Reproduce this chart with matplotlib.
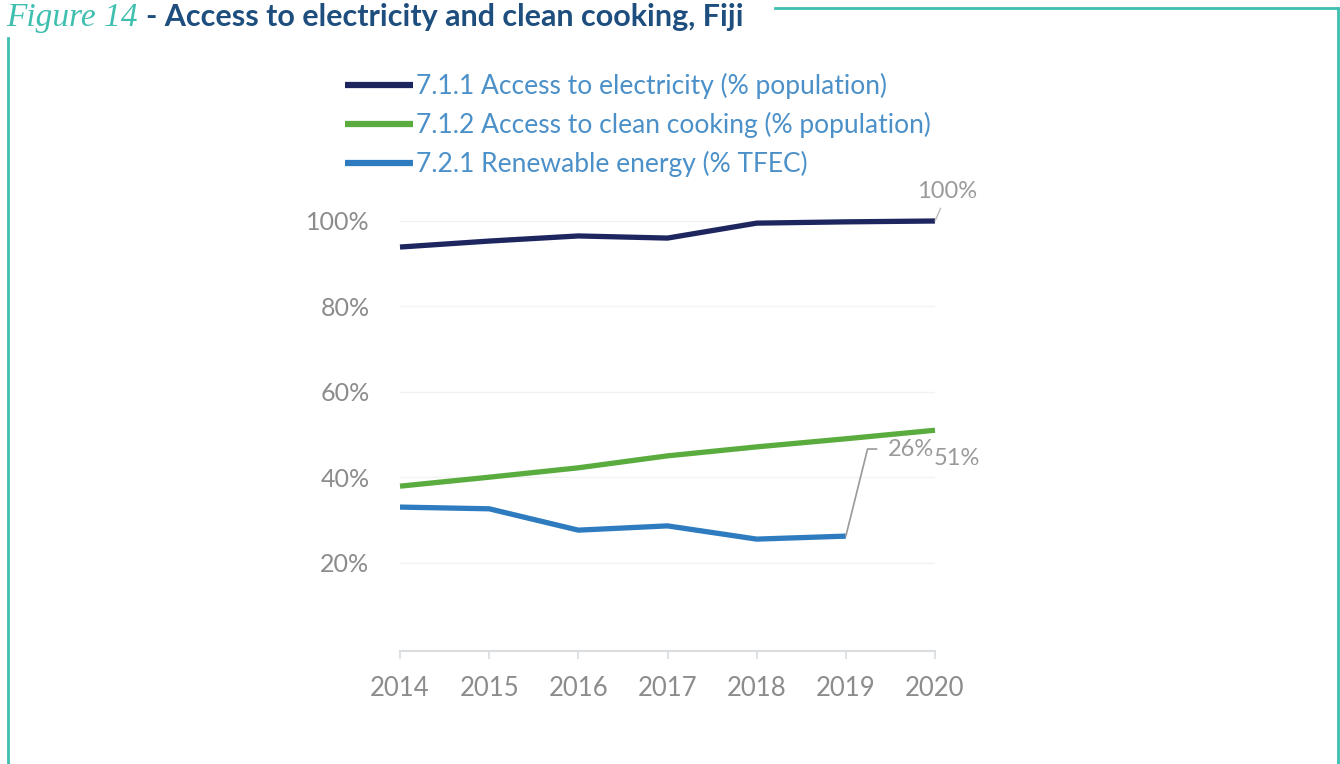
import matplotlib.pyplot as plt
from matplotlib.lines import Line2D

years = [2014, 2015, 2016, 2017, 2018, 2019, 2020]
electricity = [93.9, 95.3, 96.5, 96.0, 99.5, 99.8, 100.0]
clean_cooking = [37.9, 40.0, 42.2, 45.0, 47.1, 49.0, 51.0]
renewable_years = [2014, 2015, 2016, 2017, 2018, 2019]
renewable = [33.0, 32.6, 27.6, 28.6, 25.5, 26.2]

series_labels = ['7.1.1 Access to electricity (% population)',
                 '7.1.2 Access to clean cooking (% population)',
                 '7.2.1 Renewable energy (% TFEC)']
y_ticks = [20, 40, 60, 80, 100]

W, H = 1340, 764
fig = plt.figure(figsize=(W / 100, H / 100), dpi=100)
fig.patch.set_facecolor('white')

def fx(px):
    return px / W

def fy(py):
    return 1 - py / H

# axes area (pixel-based placement)
ax = fig.add_axes([fx(400), fy(648), fx(935) - fx(400), fy(221) - fy(648)])
ax.set_xlim(2014, 2020)
ax.set_ylim(0, 100)

navy = '#1e2660'
green = '#5aac3f'
blue = '#2e7cbf'

lw = 3.8
l1, = ax.plot(years, electricity, color=navy, lw=lw, clip_on=False, solid_capstyle='butt')
l2, = ax.plot(years, clean_cooking, color=green, lw=lw, clip_on=False, solid_capstyle='butt')
l3, = ax.plot(renewable_years, renewable, color=blue, lw=lw, clip_on=False, solid_capstyle='butt')

for s in ['top', 'right', 'left']:
    ax.spines[s].set_visible(False)
ax.spines['bottom'].set_color('#d9dde0')
ax.spines['bottom'].set_linewidth(1.5)
ax.spines['bottom'].set_position(('outward', 2))

ax.set_yticks(y_ticks)
ax.set_yticklabels([f'{v}%' for v in y_ticks])
ax.set_xticks(years)
ax.tick_params(axis='y', length=0, pad=22, labelsize=18, labelcolor='#8c8c8c')
ax.tick_params(axis='x', length=6, width=1.2, color='#d9dde0', pad=12,
               labelsize=18.5, labelcolor='#8c8c8c')
for lab in ax.get_xticklabels() + ax.get_yticklabels():
    lab.set_family('Lato')
ax.grid(axis='y', color='#f2f2f2', lw=1)
ax.set_axisbelow(True)

# data labels with leader lines
grey = '#9a9a9a'
ax.annotate('100%', xy=(2020, electricity[-1]), xytext=(2020.13, 107),
            fontsize=17, color=grey, family='Lato', ha='center', va='center',
            arrowprops=dict(arrowstyle='-', color='#bbbbbb', lw=1,
                            shrinkA=3, shrinkB=0, relpos=(0.45, 0)),
            annotation_clip=False)
ax.annotate('26%', xy=(renewable_years[-1], renewable[-1]),
            xytext=(2019.47, 46.6), fontsize=17, color=grey, family='Lato',
            ha='left', va='center',
            arrowprops=dict(arrowstyle='-', color='#999999', lw=1.2,
                            shrinkA=6, shrinkB=0,
                            connectionstyle='angle,angleA=0,angleB=76,rad=0',
                            relpos=(0, 0.5)),
            annotation_clip=False)
ax.text(2020.25, 44.3, '51%', fontsize=17, color=grey, family='Lato',
        ha='center', va='center', clip_on=False)

# legend
leg = fig.legend([l1, l2, l3], series_labels, loc='upper left',
                 bbox_to_anchor=(fx(321), fy(49)), frameon=False,
                 handlelength=2.6, handletextpad=0.1, labelspacing=0.5,
                 prop={'family': 'Lato', 'size': 19})
for t in leg.get_texts():
    t.set_color('#4b90c8')
for h in leg.legend_handles:
    h.set_linewidth(4.5)

# frame lines
teal = '#3fbfb0'
fig.add_artist(Line2D([fx(8), fx(8)], [fy(38), 0], color=teal, lw=2))
fig.add_artist(Line2D([fx(775), fx(1338)], [fy(8), fy(8)], color=teal, lw=2))
fig.add_artist(Line2D([fx(1338), fx(1338)], [fy(8), 0], color=teal, lw=2))

# title
fig.text(fx(6), fy(26), 'Figure 14', fontsize=24, style='italic', family='Liberation Serif',
         color=teal, va='baseline', ha='left')
fig.text(fx(146), fy(26), '- Access to electricity and clean cooking, Fiji', fontsize=22,
         weight='bold', family='Lato', color='#1d4e7e', va='baseline', ha='left')

fig.savefig('out.png', dpi=100, facecolor='white')
